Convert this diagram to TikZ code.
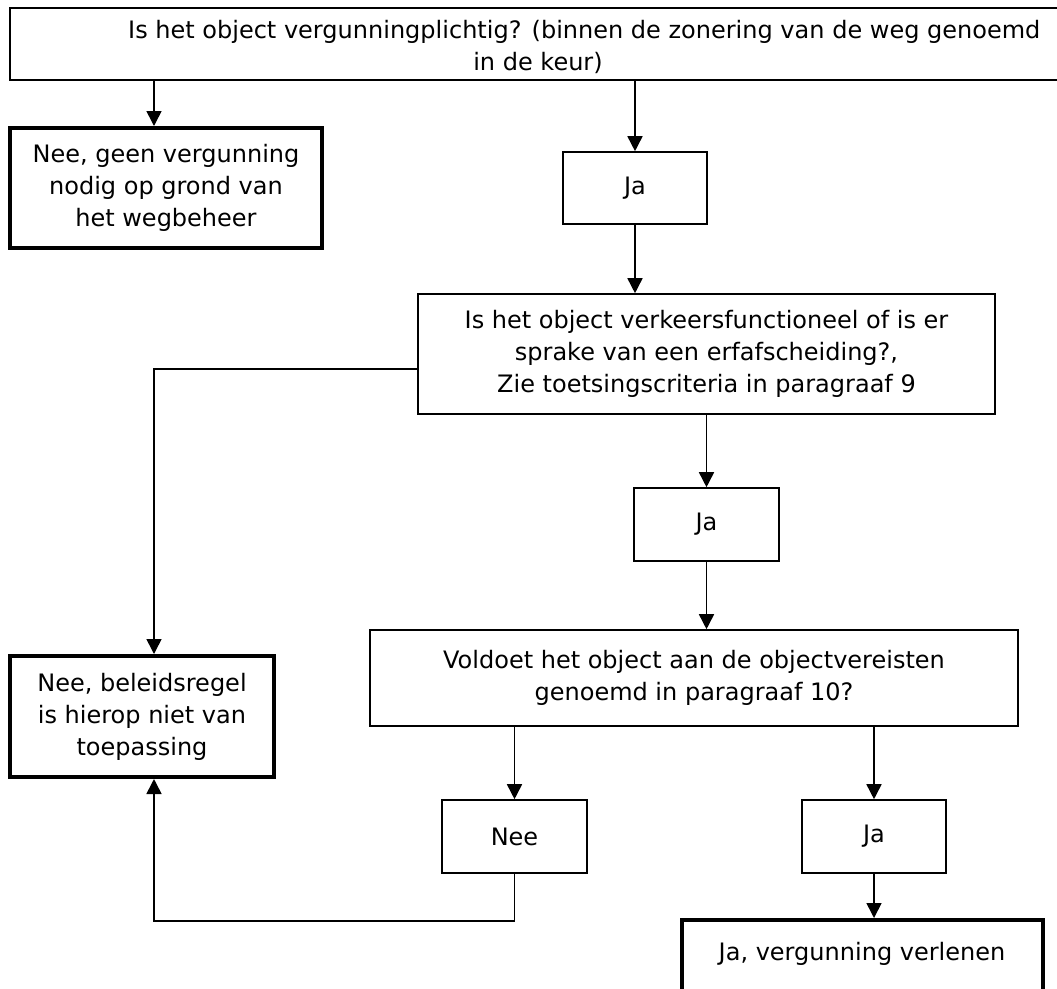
\documentclass[tikz,border=0pt]{standalone}
\usepackage{fontspec}
\setmainfont{DejaVu Sans}
\usetikzlibrary{arrows.meta}
\tikzset{
  box/.style={draw, line width=1.6pt, rectangle, inner sep=0pt, align=center, font=\fontsize{24}{32}\selectfont},
  endbox/.style={box, line width=4pt},
  txt/.style={inner sep=0pt, font=\fontsize{24}{32}\selectfont},
  arr/.style={line width=1.6pt, -{Triangle[length=15pt,width=15pt]}},
}
\begin{document}
\begin{tikzpicture}[x=1pt,y=-1pt]
\clip (0,0) rectangle (1057,988);
\fill[white] (0,0) rectangle (1057,988);
% nodes
\node[box, minimum width=1060pt, minimum height=72pt] (top) at (540,44) {};
\node[txt, anchor=base west] (t1) at (128,38) {Is het object vergunningplichtig? (binnen de zonering van de weg genoemd};
\node[txt, anchor=base] (t2) at (538,70) {in de keur)};
\node[endbox, minimum width=312pt, minimum height=120pt] (nee1) at (166,188) {Nee, geen vergunning\\nodig op grond van\\het wegbeheer};
\node[box, minimum width=144pt, minimum height=72pt] (ja1) at (635,188) {Ja};
\node[box, minimum width=577pt, minimum height=120pt] (q2) at (706.5,354) {Is het object verkeersfunctioneel of is er\\sprake van een erfafscheiding?,\\Zie toetsingscriteria in paragraaf 9};
\node[box, minimum width=145pt, minimum height=73pt] (ja2) at (706.5,524.5) {Ja};
\node[endbox, minimum width=264pt, minimum height=121pt] (nee2) at (142,716.5) {Nee, beleidsregel\\is hierop niet van\\toepassing};
\node[box, minimum width=648pt, minimum height=96pt] (q3) at (694,678) {Voldoet het object aan de objectvereisten\\genoemd in paragraaf 10?};
\node[box, minimum width=145pt, minimum height=73pt] (neeb) at (514.5,836.5) {Nee};
\node[box, minimum width=144pt, minimum height=73pt] (ja3) at (874,836.5) {Ja};
\node[endbox, minimum width=361pt, minimum height=100pt] (fin) at (862.5,970) {};
\node[txt, anchor=base] (fint) at (862,960) {Ja, vergunning verlenen};
% coordinates
\coordinate (a1) at (154,0);
\coordinate (a2) at (154,369);
\coordinate (a3) at (154,921);
% connectors
\draw[arr] (top.south -| a1) -- (nee1.north -| a1);
\draw[arr] (top.south -| ja1) -- (ja1.north);
\draw[arr] (ja1.south) -- (ja1.south |- q2.north);
\draw[arr] (q2.west |- a2) -- (a2) -- (nee2.north -| a2);
\draw[arr] (q2.south -| ja2) -- (ja2.north);
\draw[arr] (ja2.south) -- (ja2.south |- q3.north);
\draw[arr] (q3.south -| neeb) -- (neeb.north);
\draw[arr] (q3.south -| ja3) -- (ja3.north);
\draw[arr] (neeb.south) -- (neeb.south |- a3) -- (a3) -- (nee2.south -| a3);
\draw[arr] (ja3.south) -- (ja3.south |- fin.north);
\end{tikzpicture}
\end{document}
